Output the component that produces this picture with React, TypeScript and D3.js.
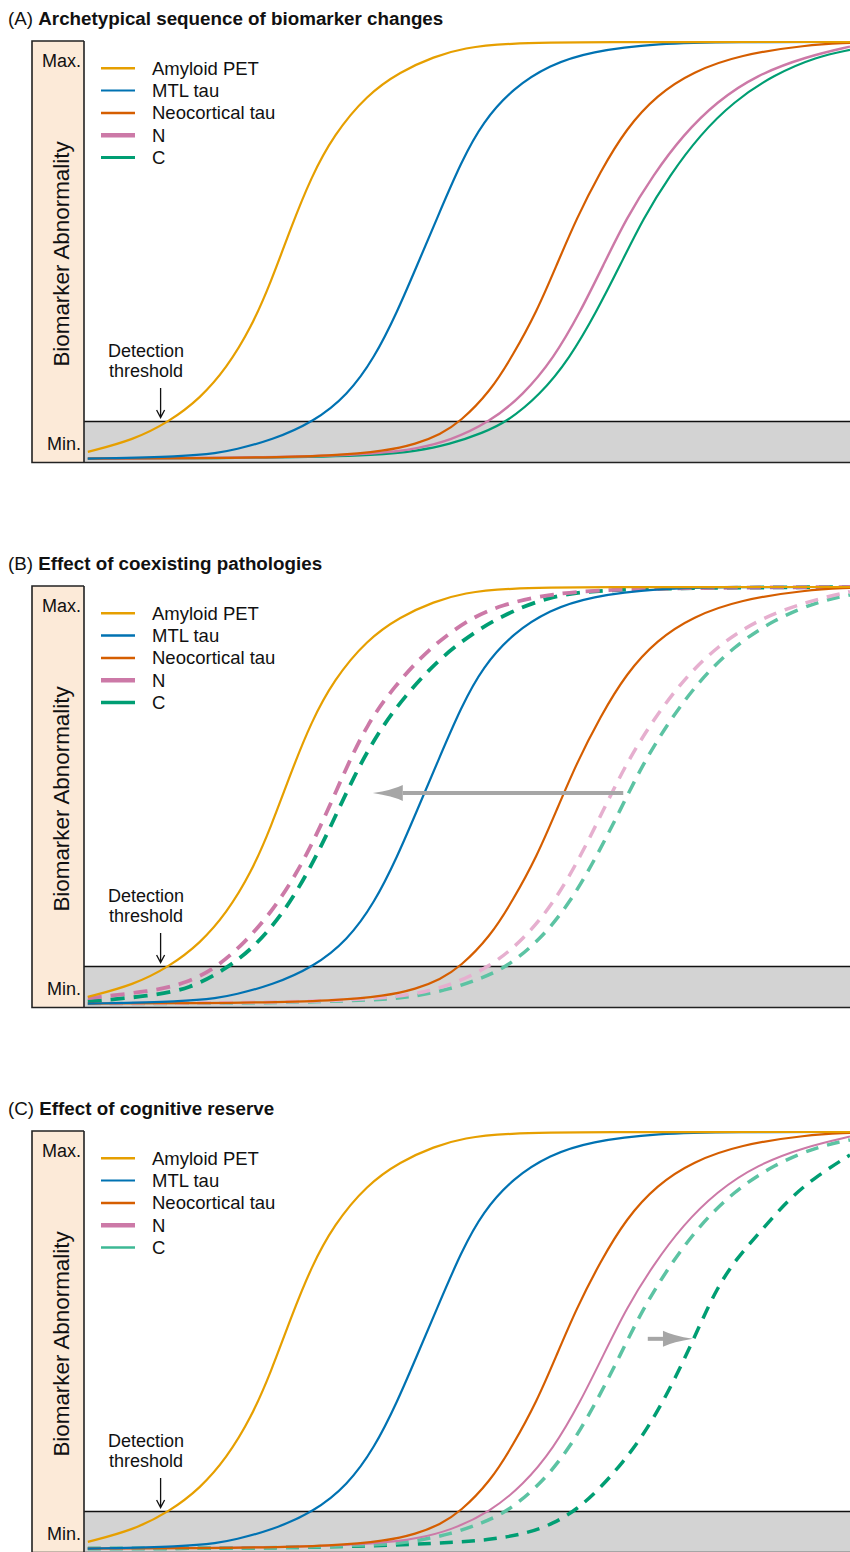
import * as d3 from "d3";

// panel titles
const panelTags = ["(A)", "(B)", "(C)"];
const panelTitles = [
  "Archetypical sequence of biomarker changes",
  "Effect of coexisting pathologies",
  "Effect of cognitive reserve",
];
const legendLabels = ["Amyloid PET", "MTL tau", "Neocortical tau", "N", "C"];

// curves: [disease stage (0-100), abnormality (0 = Min., 100 = Max.)]
const amyloidPET = [
  [0.5, 1.7], [6.5, 4.6], [11.1, 8.9], [15.2, 14.6], [18.6, 21.8], [21.8, 31.4],
  [24.4, 42.4], [27.0, 55.4], [29.6, 67.4], [32.6, 77.7], [36.9, 87.3], [41.3, 92.9],
  [45.7, 96.5], [49.6, 98.6], [55.2, 99.7], [65, 100], [100, 100],
];
const mtlTau = [
  [0.5, 0.1], [13.1, 0.6], [17.4, 1.4], [19.6, 2.2], [24.5, 4.5], [30.0, 8.9],
  [34.4, 15.3], [37.9, 24.2], [40.9, 35.3], [43.5, 46.5], [46.1, 57.8], [49.3, 71.5],
  [52.1, 80.9], [56.0, 88.9], [60.8, 94.5], [66.1, 97.7], [74.8, 99.7], [85, 100], [100, 100],
];
const neocorticalTau = [
  [0.5, 0.1], [20, 0.2], [33, 0.8], [39.2, 1.9], [43.4, 3.6], [46.5, 5.9], [49.1, 8.9],
  [53.0, 16.1], [56.0, 24.9], [59.1, 35.3], [61.7, 46.5], [64.3, 57.7], [67.4, 68.9],
  [70.8, 79.3], [74.8, 87.3], [79.5, 92.9], [85.6, 96.9], [94.3, 99.3], [100, 99.8],
];
const nCurve = [
  [0.5, 0.1], [25, 0.3], [39.1, 1.3], [43.4, 2.5], [47.8, 4.4], [53.0, 8.9],
  [57.3, 15.3], [61.3, 24.1], [64.8, 35.3], [67.8, 46.5], [70.8, 57.7], [74.3, 68.1],
  [78.2, 77.7], [82.6, 85.7], [87.8, 92.1], [94.3, 96.5], [100, 98.9],
];
const cCurve = [
  [0.5, 0.1], [25, 0.2], [39.1, 1.0], [43, 1.8], [47.8, 3.5], [52.1, 6.3], [55.2, 8.9],
  [59.5, 15.3], [63.4, 24.1], [66.9, 35.3], [70.0, 46.5], [73.0, 57.7], [76.5, 68.1],
  [80.4, 77.7], [84.8, 85.7], [90.0, 92.1], [95.7, 96.5], [100, 98.1],
];
// (B) N and C pulled earlier by coexisting pathologies
const nEarlier = [
  [0.5, 1.4], [8.7, 3.0], [13.5, 5.0], [17.4, 8.9], [20.9, 14.6], [24.4, 21.8],
  [27.8, 31.3], [30.9, 42.5], [33.9, 55.3], [37.0, 67.3], [40.5, 76.1], [44.8, 84.9],
  [50.0, 92.1], [54.4, 95.7], [60.8, 98.4], [70, 99.7], [100, 100],
];
const cEarlier = [
  [0.5, 0.6], [8.7, 1.9], [13.9, 3.7], [18.3, 8.2], [21.8, 12.9], [25.7, 20.9],
  [29.2, 31.3], [32.2, 42.5], [35.2, 54.5], [38.3, 64.9], [41.8, 73.7], [46.6, 83.3],
  [51.4, 89.7], [54.4, 92.9], [60.8, 98.1], [69.5, 99.7], [100, 100],
];
// (C) C delayed by cognitive reserve
const cLater = [
  [0.5, 0.1], [30, 0.2], [47.3, 1.4], [53.0, 2.2], [57.8, 3.7], [61.3, 6.1], [64.3, 9.4],
  [67.4, 14.6], [70.4, 20.9], [73.0, 27.3], [75.6, 35.3], [78.2, 44.8], [80.4, 53.7],
  [82.6, 62.5], [85.2, 69.7], [88.3, 76.1], [91.7, 83.3], [95.2, 88.9], [100, 94.5],
];

const thresholdValue = 9;
const detectionArrowX = 10;
// grey shift arrows [from x, to x, at y]
const shiftArrows = [null, [70.4, 37.7, 50.6], [73.6, 79.5, 50.4]];

const ORANGE = "#E69F00";
const BLUE = "#0072B2";
const RED = "#D55E00";
const PINK = "#CC79A7";
const GREEN = "#009E73";
const PALE_PINK = "#E6AFCF";
const PALE_TEAL = "#5CC3A3";
const font = "Arial, 'Liberation Sans', sans-serif";

const panelCurves = [
  [
    { d: cCurve, color: GREEN, w: 2.2 },
    { d: nCurve, color: PINK, w: 2.4 },
    { d: neocorticalTau, color: RED, w: 2.2 },
    { d: mtlTau, color: BLUE, w: 2.2 },
    { d: amyloidPET, color: ORANGE, w: 2.2 },
  ],
  [
    { d: cCurve, color: PALE_TEAL, w: 3.5, dash: "13 9" },
    { d: nCurve, color: PALE_PINK, w: 3.5, dash: "13 9" },
    { d: cEarlier, color: GREEN, w: 3.8, dash: "14 9" },
    { d: nEarlier, color: PINK, w: 3.8, dash: "14 9" },
    { d: neocorticalTau, color: RED, w: 2.2 },
    { d: mtlTau, color: BLUE, w: 2.2 },
    { d: amyloidPET, color: ORANGE, w: 2.2 },
  ],
  [
    { d: cLater, color: GREEN, w: 3.5, dash: "13 9" },
    { d: cCurve, color: PALE_TEAL, w: 3.5, dash: "13 9" },
    { d: nCurve, color: PINK, w: 2.0 },
    { d: neocorticalTau, color: RED, w: 2.2 },
    { d: mtlTau, color: BLUE, w: 2.2 },
    { d: amyloidPET, color: ORANGE, w: 2.2 },
  ],
];

const legendStyles = [
  [[ORANGE, 2.5], [BLUE, 2], [RED, 2.5], [PINK, 4.5], [GREEN, 3]],
  [[ORANGE, 2.5], [BLUE, 2.5], [RED, 2.5], [PINK, 4.5], [GREEN, 3.5]],
  [[ORANGE, 2.5], [BLUE, 2], [RED, 2.5], [PINK, 4.5], ["#3DB894", 2.5]],
];

const PANEL_STEP = 545;
const boxTop = 41;
const boxBottom = 462.5;
const stripLeft = 32;
const plotLeft = 84;
const W = 850;

const x = d3.scaleLinear().domain([0, 100]).range([plotLeft, W]);
const y = d3.scaleLinear().domain([0, 100]).range([459, 42]);
const line = d3
  .line()
  .x((p) => x(p[0]))
  .y((p) => y(p[1]))
  .curve(d3.curveBasis);

const Panel = ({ i }) => {
  const ty = y(thresholdValue);
  const arrow = shiftArrows[i];
  const ax = x(detectionArrowX);
  return (
    <g transform={`translate(0, ${i * PANEL_STEP})`}>
      <text x={8} y={25} fontSize={18.8} fontFamily={font} fill="#111">
        <tspan>{panelTags[i]} </tspan>
        <tspan fontWeight="bold">{panelTitles[i]}</tspan>
      </text>

      <rect x={stripLeft} y={boxTop} width={plotLeft - stripLeft} height={boxBottom - boxTop} fill="#FCEAD8" />
      <rect x={plotLeft} y={ty} width={W - plotLeft} height={boxBottom - ty} fill="#D3D3D3" />
      <line x1={plotLeft} x2={W} y1={ty} y2={ty} stroke="#111" strokeWidth={1.4} />
      <path
        d={`M${plotLeft},${boxTop}H${stripLeft}V${boxBottom}H${W}M${plotLeft},${boxTop}V${boxBottom}`}
        fill="none"
        stroke="#222"
        strokeWidth={1.6}
      />

      <text x={81} y={67} textAnchor="end" fontSize={18} fontFamily={font} fill="#111">Max.</text>
      <text x={81} y={449.5} textAnchor="end" fontSize={18} fontFamily={font} fill="#111">Min.</text>
      <text
        transform={`translate(69, 254) rotate(-90)`}
        textAnchor="middle"
        fontSize={22.4}
        fontFamily={font}
        fill="#111"
      >
        Biomarker Abnormality
      </text>

      {panelCurves[i].map((c, k) => (
        <path
          key={k}
          d={line(c.d)}
          fill="none"
          stroke={c.color}
          strokeWidth={c.w}
          strokeDasharray={c.dash}
        />
      ))}

      {arrow && (() => {
        const [x0, x1, av] = arrow;
        const px0 = x(x0);
        const px1 = x(x1);
        const py = y(av);
        const dir = Math.sign(px1 - px0);
        const base = px1 - dir * 30;
        return (
          <g fill="#A6A6A6" stroke="none">
            <line x1={px0} x2={base} y1={py} y2={py} stroke="#A6A6A6" strokeWidth={4} />
            <path d={`M${px1},${py}Q${base + dir * 10},${py - 3} ${base},${py - 8}L${base},${py + 8}Q${base + dir * 10},${py + 3} ${px1},${py}Z`} />
          </g>
        );
      })()}

      {legendLabels.map((lab, k) => {
        const ly = 68.3 + k * 22.3;
        const [col, w] = legendStyles[i][k];
        return (
          <g key={lab}>
            <line x1={101} x2={135} y1={ly} y2={ly} stroke={col} strokeWidth={w} />
            <text x={152} y={ly + 6.5} fontSize={18.5} fontFamily={font} fill="#111">{lab}</text>
          </g>
        );
      })}

      <text x={146} y={356.5} textAnchor="middle" fontSize={18} fontFamily={font} fill="#111">Detection</text>
      <text x={146} y={377} textAnchor="middle" fontSize={18} fontFamily={font} fill="#111">threshold</text>
      <path
        d={`M${ax},388V417.5M${ax - 4},410L${ax},417.5L${ax + 4},410`}
        fill="none"
        stroke="#111"
        strokeWidth={1.3}
      />
    </g>
  );
};

export default function App() {
  return (
    <>
      <style>{`body{margin:0}`}</style>
      <svg width={850} height={1552} style={{ display: "block", background: "#fff" }}>
        {[0, 1, 2].map((i) => (
          <Panel key={i} i={i} />
        ))}
      </svg>
    </>
  );
}
